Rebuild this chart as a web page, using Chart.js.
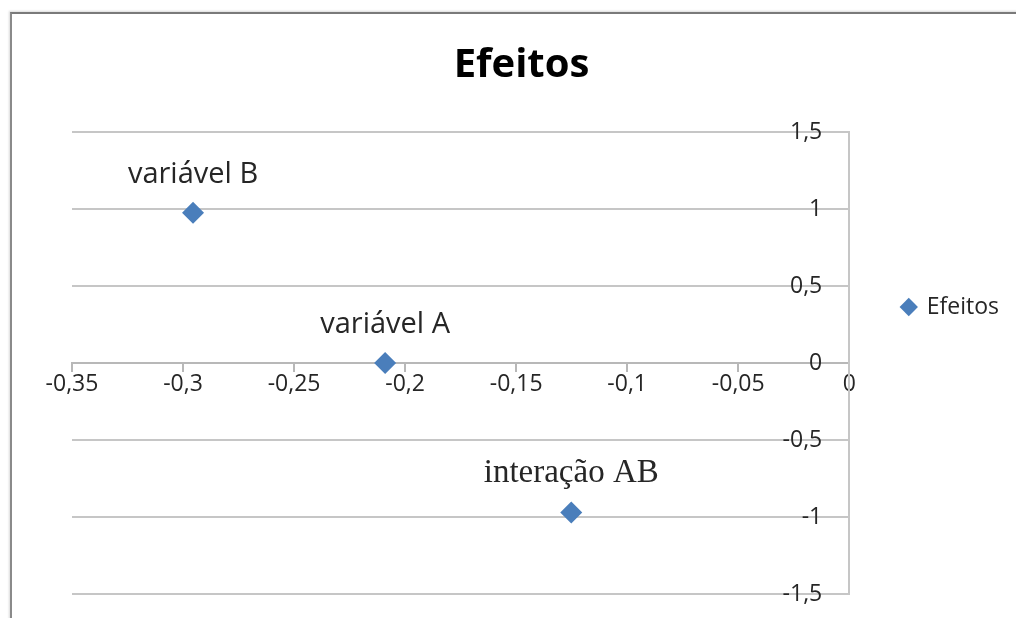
<!DOCTYPE html>
<html>
<head>
<meta charset="utf-8">
<script src="https://cdn.jsdelivr.net/npm/chart.js"></script>
<style>
  body { margin: 0; background: #fff; }
  #wrap { position: relative; width: 1016px; height: 618px; overflow: hidden; }
  #frame { position: absolute; left: 10px; top: 12px; right: -10px; bottom: -10px;
           border-left: 2px solid #8a8a8a; border-top: 2px solid #7a7a7a;
           box-shadow: -1px -1px 2px rgba(0,0,0,0.15); pointer-events: none; }
  canvas { position: absolute; left: 0; top: 0; }
</style>
</head>
<body>
<div id="wrap">
  <canvas id="effects" width="1016" height="618"></canvas>
  <div id="frame"></div>
</div>
<script>
const pointNames = ['variável B', 'variável A', 'interação AB'];
const effectX = [-0.2955, -0.209, -0.1252];
const effectY = [0.975, 0, -0.97];
const xTicks = { min: -0.35, max: 0, step: 0.05 };
const yTicks = { min: -1.5, max: 1.5, step: 0.5 };

// label look per point (the last one is in a serif face in the original)
const nameFonts = ['29px "Open Sans"', '29px "Open Sans"', '33px "Liberation Serif"'];

const comma = v => String(Math.round(v * 100) / 100).replace('.', ',');

const pointLabels = {
    id: 'pointLabels',
    afterDatasetsDraw(chart) {
        const ctx = chart.ctx;
        const meta = chart.getDatasetMeta(0);
        ctx.save();
        ctx.fillStyle = '#262626';
        ctx.textAlign = 'center';
        ctx.textBaseline = 'alphabetic';
        meta.data.forEach((pt, i) => {
            ctx.font = nameFonts[i];
            ctx.fillText(pointNames[i], pt.x, pt.y - 30);
        });
        ctx.restore();
    }
};

// the original title is centred on a wider frame than this crop
const shiftTitle = {
    id: 'shiftTitle',
    afterLayout(chart) {
        chart.titleBlock.left -= 19;
        chart.titleBlock.right -= 19;
    }
};

var effects = document.getElementById('effects').getContext('2d');
var effects = new Chart(effects, {
    type: 'scatter',
    data: {
        datasets: [{
            label: 'Efeitos',
            data: effectX.map((x, i) => ({ x: x, y: effectY[i] })),
            pointStyle: 'rectRot',
            pointRadius: 11,
            pointHoverRadius: 11,
            backgroundColor: '#4a7ebb',
            borderColor: '#4a7ebb',
            borderWidth: 0
        }]
    },
    options: {
        responsive: false,
        animation: false,
        layout: { padding: { left: 72, right: 7, top: 20, bottom: 24 } },
        plugins: {
            title: {
                display: true,
                text: 'Efeitos',
                color: '#000',
                font: { family: '"Open Sans"', size: 40, weight: 'bold', lineHeight: 1.2 },
                padding: { top: 22, bottom: 42 }
            },
            legend: {
                position: 'right',
                labels: {
                    usePointStyle: true,
                    pointStyle: 'rectRot',
                    boxWidth: 13,
                    boxHeight: 13,
                    padding: 53,
                    color: '#262626',
                    font: { family: '"Open Sans"', size: 23 }
                }
            },
            tooltip: { enabled: false }
        },
        scales: {
            x: {
                type: 'linear',
                position: { y: 0 },
                min: xTicks.min,
                max: xTicks.max,
                afterFit: s => { s.height = 0; },
                ticks: {
                    stepSize: xTicks.step,
                    padding: 0,
                    color: '#262626',
                    font: { family: '"Open Sans"', size: 23 },
                    callback: comma
                },
                grid: { drawOnChartArea: false, drawTicks: true, tickLength: 8, color: '#b8b8b8', lineWidth: 2 },
                border: { display: true, color: '#b8b8b8', width: 2 }
            },
            y: {
                type: 'linear',
                position: 'right',
                min: yTicks.min,
                max: yTicks.max,
                afterFit: s => { s.width = 0; },
                ticks: {
                    stepSize: yTicks.step,
                    mirror: true,
                    padding: -27,
                    color: '#262626',
                    font: { family: '"Open Sans"', size: 23 },
                    callback: comma
                },
                grid: { drawTicks: false, color: '#c6c6c6', lineWidth: 2 },
                border: { display: true, color: '#c6c6c6', width: 2 }
            }
        }
    },
    plugins: [pointLabels, shiftTitle]
});
</script>
</body>
</html>
